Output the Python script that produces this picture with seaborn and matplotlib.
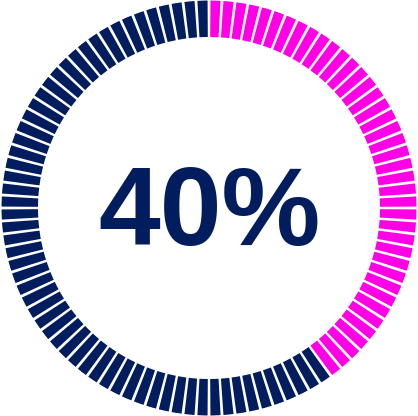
import matplotlib
matplotlib.use("Agg")
import matplotlib.pyplot as plt
import numpy as np
import seaborn as sns

# Data
percent = 40
n_segments = 100
label = "40%"
color_on = "#FF00E6"
color_off = "#021D5E"

sns.set_theme(style="white")
plt.rcParams['font.family'] = ['Liberation Sans', 'DejaVu Sans']

segments = np.arange(n_segments)
pitch = 2 * np.pi / n_segments
theta = segments * pitch + pitch / 2
colors = [color_on if s < percent * n_segments / 100 else color_off for s in segments]

fig = plt.figure(figsize=(4.18, 4.16), dpi=100)
fig.patch.set_facecolor("white")
ax = fig.add_axes([0, 0, 1, 1], projection="polar")
ax.set_theta_zero_location("N")
ax.set_theta_direction(-1)
ax.bar(theta, np.full(n_segments, 36.5), width=pitch * 0.78, bottom=171,
       color=colors, edgecolor="none", linewidth=0, antialiased=True)
ax.set_ylim(0, 208)
ax.set_axis_off()

fig.text(0.5 + 1 / 418, 171 / 416, label, ha="center", va="baseline",
         fontsize=80, fontweight="bold", color=color_off)

fig.savefig("out.png", dpi=100, facecolor="white")
